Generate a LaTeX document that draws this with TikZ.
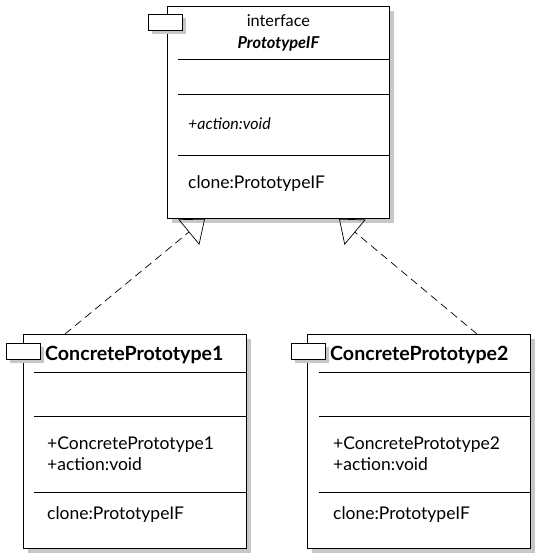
\documentclass[tikz,border=0pt]{standalone}
\usepackage{fontspec}
\setmainfont{Lato}
\usetikzlibrary{arrows.meta,positioning,calc,shadows}

\tikzset{
  boxshadow/.style={drop shadow={shadow xshift=5pt,shadow yshift=-5pt,fill=black!22,opacity=1}},
  classbox/.style={draw,fill=white,line width=0.8pt,anchor=north west,inner sep=0pt,boxshadow},
  tabbox/.style={draw,fill=white,line width=0.8pt,anchor=north west,inner sep=0pt,minimum width=34pt,minimum height=16pt,drop shadow={shadow xshift=4pt,shadow yshift=-4pt,fill=black!22,opacity=1}},
  member/.style={anchor=base west,inner sep=0pt,font=\fontsize{17.5}{20}\selectfont},
  title/.style={anchor=base west,inner sep=0pt,font=\fontsize{19.6}{22}\selectfont\bfseries},
  divider/.style={line width=0.8pt},
  realize/.style={line width=0.7pt,dash pattern=on 8pt off 5pt,-{Triangle[open,length=21pt,width=33pt]}}
}

\begin{document}
\begin{tikzpicture}[x=1pt,y=-1pt]
\useasboundingbox (0,0) rectangle (545,560);
% interface
\node[classbox,minimum width=222pt,minimum height=212pt] (ifc) at (167,6) {};
\node[tabbox] (ifctab) at ($(ifc.north west)+(-19,8)$) {};
\node[anchor=base,inner sep=0pt,font=\fontsize{16.3}{19}\selectfont] (ifckind) at ($(ifc.north)+(0,20)$) {interface};
\node[anchor=base,inner sep=0pt,font=\fontsize{16.4}{19}\selectfont\bfseries\itshape] (ifcname) at ($(ifc.north)+(0,42)$) {PrototypeIF};
\draw[divider] ($(ifc.north west)+(11,53)$) -- ($(ifc.north east)+(0,53)$);
\draw[divider] ($(ifc.north west)+(11,88)$) -- ($(ifc.north east)+(0,88)$);
\draw[divider] ($(ifc.north west)+(11,149)$) -- ($(ifc.north east)+(0,149)$);
\node[member,font=\fontsize{16}{19}\selectfont\itshape] (ifcop) at ($(ifc.north west)+(21,123)$) {+action:void};
\node[member] (ifcclone) at ($(ifc.north west)+(21,182)$) {clone:PrototypeIF};

% first concrete class
\node[classbox,minimum width=223pt,minimum height=214pt] (c1) at (23,334) {};
\node[tabbox] (c1tab) at ($(c1.north west)+(-17,9)$) {};
\node[title] (c1name) at ($(c1.north west)+(22,26)$) {ConcretePrototype1};
\draw[divider] ($(c1.north west)+(11,38)$) -- ($(c1.north east)+(0,38)$);
\draw[divider] ($(c1.north west)+(11,82)$) -- ($(c1.north east)+(0,82)$);
\draw[divider] ($(c1.north west)+(11,158)$) -- ($(c1.north east)+(0,158)$);
\node[member] (c1ctor) at ($(c1.north west)+(24,115)$) {+ConcretePrototype1};
\node[member] (c1op) at ($(c1.north west)+(24,136)$) {+action:void};
\node[member] (c1clone) at ($(c1.north west)+(24,185)$) {clone:PrototypeIF};

% second concrete class
\node[classbox,minimum width=223pt,minimum height=214pt] (c2) at (307,334) {};
\node[tabbox] (c2tab) at ($(c2.north west)+(-16,9)$) {};
\node[title] (c2name) at ($(c2.north west)+(23,26)$) {ConcretePrototype2};
\draw[divider] ($(c2.north west)+(12,38)$) -- ($(c2.north east)+(0,38)$);
\draw[divider] ($(c2.north west)+(12,82)$) -- ($(c2.north east)+(0,82)$);
\draw[divider] ($(c2.north west)+(12,158)$) -- ($(c2.north east)+(0,158)$);
\node[member] (c2ctor) at ($(c2.north west)+(26,115)$) {+ConcretePrototype2};
\node[member] (c2op) at ($(c2.north west)+(26,136)$) {+action:void};
\node[member] (c2clone) at ($(c2.north west)+(26,185)$) {clone:PrototypeIF};

% realizations
\draw[realize] ($(c1.north west)+(42,0)$) -- ($(ifc.south west)+(38,0)$);
\draw[realize] ($(c2.north west)+(170,0)$) -- ($(ifc.south west)+(172,0)$);
\end{tikzpicture}
\end{document}
